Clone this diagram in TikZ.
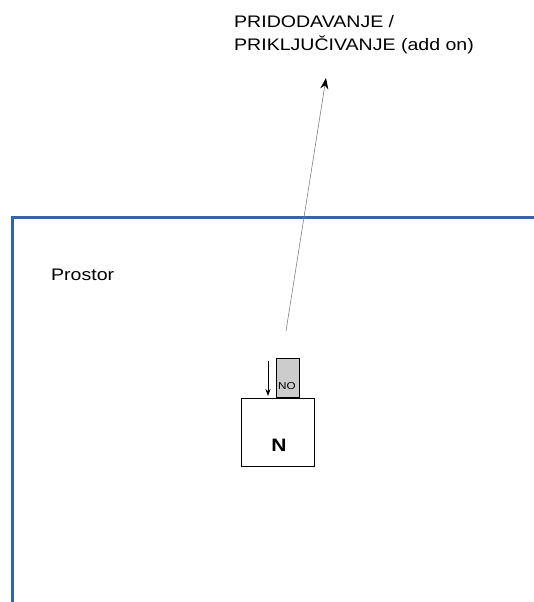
\documentclass[tikz,border=0pt]{standalone}
\usepackage{fontspec}
\setmainfont[FakeStretch=1.17]{Liberation Sans}
\usetikzlibrary{arrows.meta}
\definecolor{frameblue}{HTML}{3465A4}
\definecolor{nogray}{HTML}{CCCCCC}
\begin{document}
\begin{tikzpicture}[x=1pt,y=-1pt,
  boxstyle/.style={draw=black,line width=0.9pt,minimum width=73pt,minimum height=68pt,inner sep=0pt},
  nostyle/.style={draw=black,fill=nogray,line width=0.9pt,minimum width=23pt,minimum height=39pt,inner sep=0pt},
  lbl/.style={inner sep=0pt,anchor=base west,align=left,font=\fontsize{16.7}{23}\selectfont}]
\useasboundingbox (0,0) rectangle (533,602);
% frame
\draw[frameblue,line width=3pt] (12,604) -- (12,217) -- (535,217);
\node[lbl] (prostor) at (51,280) {Prostor};
% boxes
\node[boxstyle] (n) at (277.5,432) {};
\node[font=\fontsize{18}{20}\selectfont\bfseries,inner sep=0pt,anchor=base] (nl) at (279,451.5) {N};
\node[nostyle,anchor=south] (no) at (287.5,398) {};
\node[font=\fontsize{10}{11}\selectfont,inner sep=0pt,anchor=base] (nol) at (287,389.3) {NO};
\coordinate (da) at (268,361);
\coordinate (db) at (268,396);
\draw[-{Stealth[length=7pt,width=5pt]},line width=0.8pt] (da) -- (db);
% long arrow
\node[lbl] (title) at (234,50.7) {PRIDODAVANJE /\\PRIKLJUČIVANJE (add on)};
\coordinate (ls) at (286,331);
\coordinate (le) at (326,78);
\draw[draw=gray,line width=0.6pt,-{Stealth[length=11pt,width=8pt,color=black]}] (ls) -- (le);
\end{tikzpicture}
\end{document}
